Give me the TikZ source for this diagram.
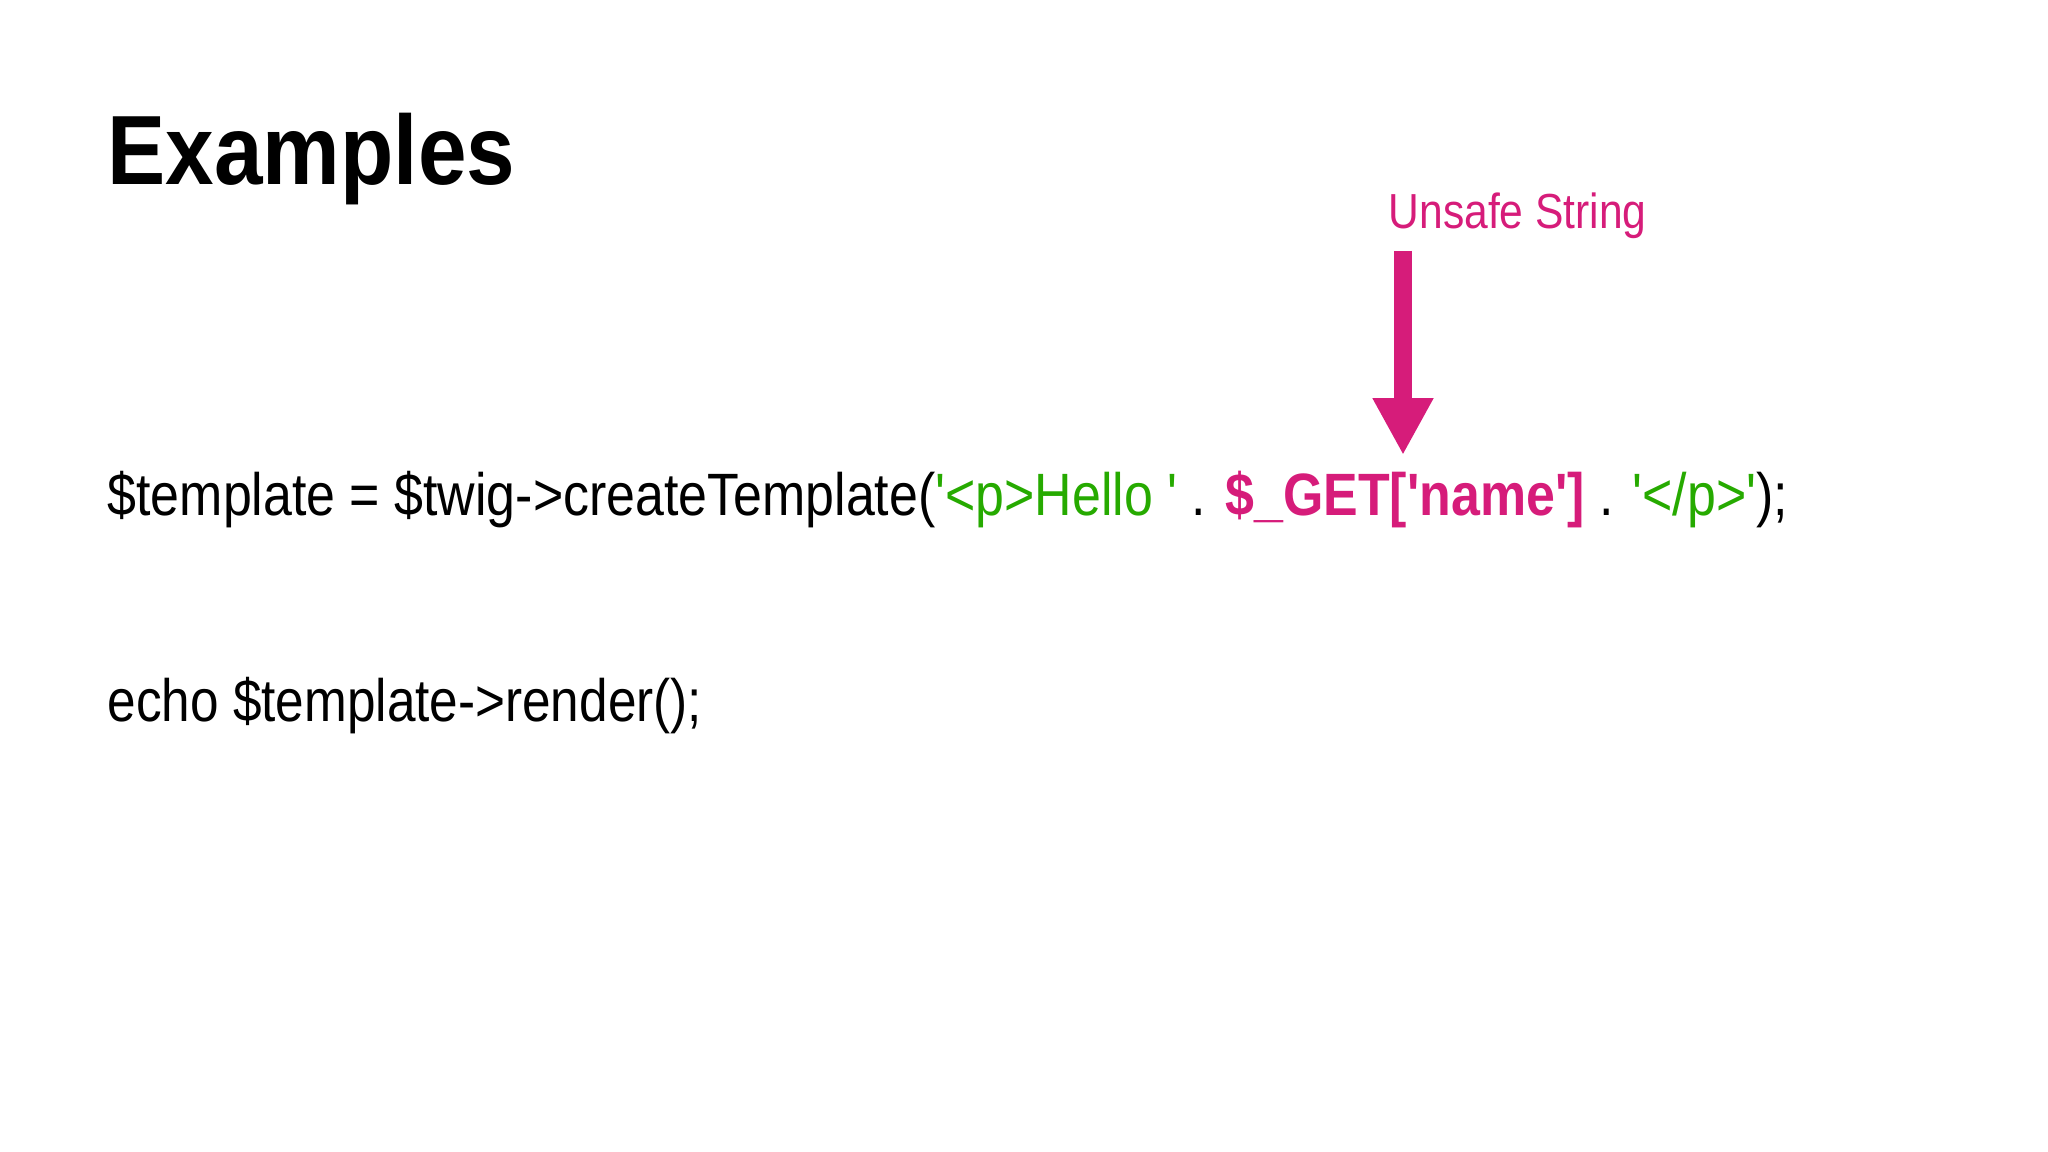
\documentclass[tikz,border=0pt]{standalone}
\usepackage{fontspec}
\setmainfont{Liberation Sans}[Ligatures=TeXOff]
\usetikzlibrary{arrows.meta}
\definecolor{mag}{RGB}{214,28,122}
\definecolor{grn}{RGB}{38,170,0}
\tikzset{txt/.style={anchor=base west,inner sep=0pt}}
\newcommand{\nar}[2]{\scalebox{#1}[1]{#2}}
\begin{document}
\begin{tikzpicture}[x=0.01cm,y=-0.01cm]
\useasboundingbox (0,0) rectangle (2048,1152);
\node[txt,font=\fontsize{28}{32}\selectfont\bfseries] (title) at (107,185) {\nar{0.886}{Examples}};
\node[txt,font=\fontsize{14}{16}\selectfont,text=mag] (label) at (1388,229) {\nar{0.865}{Unsafe String}};
\node[txt,font=\fontsize{17}{20}\selectfont] (code) at (107,516) {\nar{0.868}{\$template = \$twig->createTemplate(\textcolor{grn}{'<p>Hello '} . \textcolor{mag}{\bfseries\$\_GET['name']} . \textcolor{grn}{'</p>'});}};
\node[txt,font=\fontsize{17}{20}\selectfont] (echo) at (107,721) {\nar{0.858}{echo \$template->render();}};
\coordinate (a1) at (1403,251);
\coordinate (a2) at (1403,455);
\draw[mag,line width=5.1pt,-{Triangle[width=16.2pt,length=16.2pt]}] (a1) -- (a2);
\end{tikzpicture}
\end{document}
